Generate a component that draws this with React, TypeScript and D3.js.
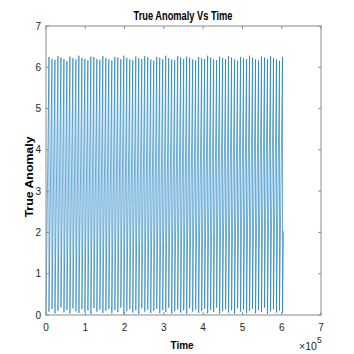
import React from "react";
import * as d3 from "d3";

// Orbit start times (s) for each revolution
const cycleStarts = [
  0, 7620, 15240, 22860, 30480, 38100, 45720, 53340, 60960, 68580,
  76200, 83820, 91440, 99060, 106680, 114300, 121920, 129540, 137160, 144780,
  152400, 160020, 167640, 175260, 182880, 190500, 198120, 205740, 213360, 220980,
  228600, 236220, 243840, 251460, 259080, 266700, 274320, 281940, 289560, 297180,
  304800, 312420, 320040, 327660, 335280, 342900, 350520, 358140, 365760, 373380,
  381000, 388620, 396240, 403860, 411480, 419100, 426720, 434340, 441960, 449580,
  457200, 464820, 472440, 480060, 487680, 495300, 502920, 510540, 518160, 525780,
  533400, 541020, 548640, 556260, 563880, 571500, 579120, 586740, 594360, 601980,
];
// Maximum true anomaly reached in each full revolution
const peakValues = [
  6.25, 6.2, 6.18, 6.27, 6.24, 6.2, 6.15, 6.26, 6.22, 6.19,
  6.28, 6.23, 6.2, 6.17, 6.26, 6.25, 6.2, 6.18, 6.27, 6.22,
  6.19, 6.16, 6.25, 6.24, 6.2, 6.28, 6.23, 6.19, 6.17, 6.26,
  6.22, 6.2, 6.27, 6.24, 6.19, 6.16, 6.25, 6.23, 6.2, 6.28,
  6.22, 6.19, 6.17, 6.27, 6.24, 6.2, 6.26, 6.23, 6.19, 6.16,
  6.25, 6.22, 6.2, 6.28, 6.24, 6.19, 6.17, 6.26, 6.23, 6.2,
  6.27, 6.24, 6.19, 6.16, 6.25, 6.22, 6.2, 6.28, 6.23, 6.19,
  6.17, 6.26, 6.24, 6.2, 6.27, 6.22, 6.19, 6.16, 6.25,
];
// Minimum true anomaly at the start of each revolution
const troughValues = [
  0.0, 0.08, 0.15, 0.04, 0.1, 0.18, 0.06, 0.12, 0.03, 0.16,
  0.09, 0.05, 0.14, 0.07, 0.11, 0.02, 0.17, 0.08, 0.13, 0.05,
  0.1, 0.15, 0.04, 0.12, 0.07, 0.18, 0.03, 0.09, 0.14, 0.06,
  0.11, 0.02, 0.16, 0.08, 0.13, 0.05, 0.1, 0.15, 0.04, 0.12,
  0.07, 0.18, 0.03, 0.09, 0.14, 0.06, 0.11, 0.02, 0.16, 0.08,
  0.13, 0.05, 0.1, 0.15, 0.04, 0.12, 0.07, 0.18, 0.03, 0.09,
  0.14, 0.06, 0.11, 0.02, 0.16, 0.08, 0.13, 0.05, 0.1, 0.15,
  0.04, 0.12, 0.07, 0.18, 0.03, 0.09, 0.14, 0.06, 0.11, 0.05,
];
const endTime = 604500;
const endValue = 2.03;
const sampleStep = 60;

const xTicks = [0, 1, 2, 3, 4, 5, 6, 7];
const yTicks = [0, 1, 2, 3, 4, 5, 6, 7];

export default function App() {
  const W = 354, H = 354;
  const left = 46, right = 321, top = 26, bottom = 315;
  const x = d3.scaleLinear().domain([0, 7e5]).range([left, right]);
  const y = d3.scaleLinear().domain([0, 7]).range([bottom, top]);

  const pts: [number, number][] = [];
  for (let i = 0; i < cycleStarts.length; i++) {
    pts.push([cycleStarts[i], troughValues[i]]);
    if (i < peakValues.length) {
      pts.push([cycleStarts[i + 1] - sampleStep, peakValues[i]]);
    } else {
      pts.push([endTime, endValue]);
    }
  }
  const line = d3
    .line<[number, number]>()
    .x((d) => x(d[0]))
    .y((d) => y(d[1]));

  const font = "'Liberation Sans', Arial, Helvetica, sans-serif";
  const axisColor = "#262626";
  const boxColor = "#8a8a8a";
  const tl = 2.8;

  return (
    <svg
      width={W}
      height={H}
      style={{ position: "absolute", left: 0, top: 0, background: "#fff" }}
      fontFamily={font}
    >
      <rect x={0} y={0} width={W} height={H} fill="#fff" />
      <path d={line(pts) || ""} fill="none" stroke="#0072BD" strokeWidth={0.6} />
      {/* box */}
      <rect
        x={left}
        y={top}
        width={right - left}
        height={bottom - top}
        fill="none"
        stroke={boxColor}
        strokeWidth={1}
      />
      {xTicks.map((t) => (
        <g key={"x" + t}>
          <line x1={x(t * 1e5)} x2={x(t * 1e5)} y1={bottom} y2={bottom - tl} stroke={boxColor} strokeWidth={1} />
          <line x1={x(t * 1e5)} x2={x(t * 1e5)} y1={top} y2={top + tl} stroke={boxColor} strokeWidth={1} />
          <text x={x(t * 1e5)} y={331} textAnchor="middle" fontSize={10} fill={axisColor}>
            {t}
          </text>
        </g>
      ))}
      {yTicks.map((t) => (
        <g key={"y" + t}>
          <line x1={left} x2={left + tl} y1={y(t)} y2={y(t)} stroke={boxColor} strokeWidth={1} />
          <line x1={right} x2={right - tl} y1={y(t)} y2={y(t)} stroke={boxColor} strokeWidth={1} />
          <text x={41} y={y(t) + 3.5} textAnchor="end" fontSize={10} fill={axisColor}>
            {t}
          </text>
        </g>
      ))}
      <text x={299} y={350} fontSize={10.5} fill={axisColor}>
        ×10
      </text>
      <text x={317} y={343} fontSize={8.5} fill={axisColor}>
        5
      </text>
      <text x={183} y={19.5} textAnchor="middle" fontSize={12} fontWeight="bold" fill="#000" textLength={99} lengthAdjust="spacingAndGlyphs">
        True Anomaly Vs Time
      </text>
      <text x={182} y={349} textAnchor="middle" fontSize={11.5} fontWeight="bold" fill="#000" textLength={23} lengthAdjust="spacingAndGlyphs">
        Time
      </text>
      <text
        transform={`translate(33,${177}) rotate(-90)`}
        textAnchor="middle"
        fontSize={11.5}
        fontWeight="bold"
        fill="#000"
        textLength={81}
        lengthAdjust="spacingAndGlyphs"
      >
        True Anomaly
      </text>
    </svg>
  );
}
